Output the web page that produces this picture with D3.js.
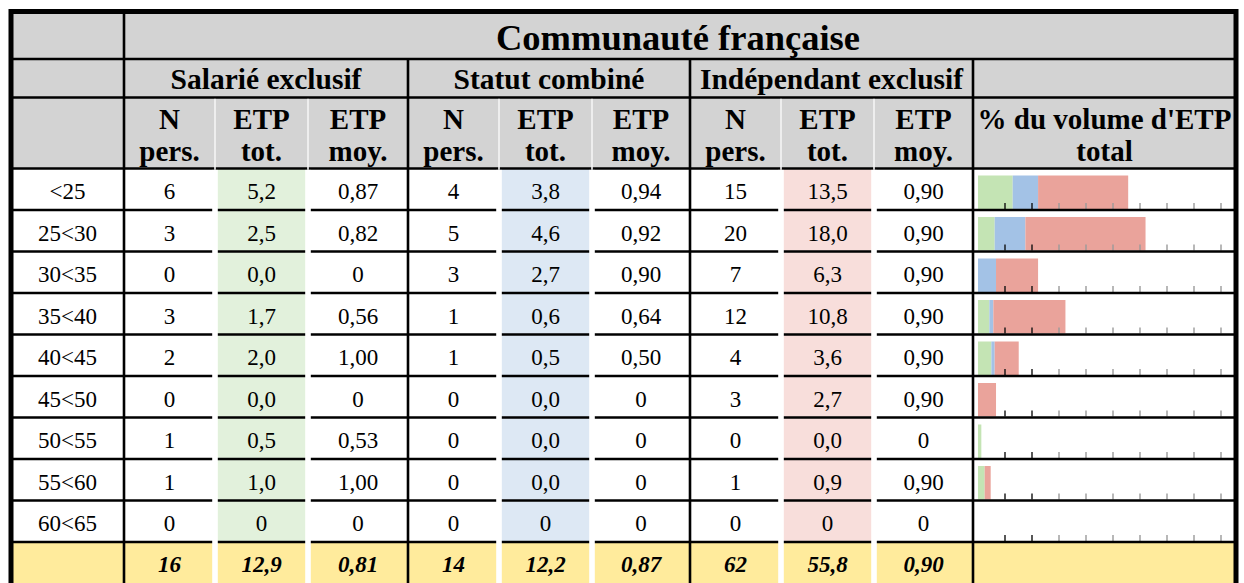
<!DOCTYPE html>
<html>
<head>
<meta charset="utf-8">
<script src="https://cdn.jsdelivr.net/npm/d3@7"></script>
<style>
  html, body { margin: 0; padding: 0; background: #fff; }
  svg { display: block; }
  svg text { font-family: 'Liberation Serif', 'Times New Roman', serif; }
</style>
</head>
<body>
<div id="chart"></div>
<script>
// Tableau ETP par tranche d'âge — Communauté française

const TITLE = 'Communauté française';
const GROUPS = ['Salarié exclusif', 'Statut combiné', 'Indépendant exclusif'];
const SUBHEADS = [['N', 'pers.'], ['ETP', 'tot.'], ['ETP', 'moy.']];
const BAR_HEAD = ["% du volume d'ETP", 'total'];
const AGES = ['<25', '25<30', '30<35', '35<40', '40<45', '45<50', '50<55', '55<60', '60<65'];

// null = cellule vide (affichée "0")
const SAL_N   = [6, 3, 0, 3, 2, 0, 1, 1, 0];
const SAL_ETP = [5.2, 2.5, 0.0, 1.7, 2.0, 0.0, 0.5, 1.0, null];
const SAL_MOY = [0.87, 0.82, 0, 0.56, 1.00, 0, 0.53, 1.00, 0];
const COMB_N   = [4, 5, 3, 1, 1, 0, 0, 0, 0];
const COMB_ETP = [3.8, 4.6, 2.7, 0.6, 0.5, 0.0, 0.0, 0.0, null];
const COMB_MOY = [0.94, 0.92, 0.90, 0.64, 0.50, 0, 0, 0, 0];
const IND_N   = [15, 20, 7, 12, 4, 3, 0, 1, 0];
const IND_ETP = [13.5, 18.0, 6.3, 10.8, 3.6, 2.7, 0.0, 0.9, null];
const IND_MOY = [0.90, 0.90, 0.90, 0.90, 0.90, 0.90, 0, 0.90, 0];

const TOT_N   = [16, 14, 62];
const TOT_ETP = [12.9, 12.2, 55.8];
const TOT_MOY = [0.81, 0.87, 0.90];

const PCT_TICKS = [5, 10, 15, 20, 25, 30, 35, 40, 45];

const GROUP_COLS = [
  { n: SAL_N,  etp: SAL_ETP,  moy: SAL_MOY,  cell: '#e2f1dc', bar: '#c4e4b4' },
  { n: COMB_N, etp: COMB_ETP, moy: COMB_MOY, cell: '#dde8f4', bar: '#a3c2e6' },
  { n: IND_N,  etp: IND_ETP,  moy: IND_MOY,  cell: '#f8dedb', bar: '#eaa39b' },
];

const W = 1244, H = 583;
const L = 11, R = 1236, T = 11.5;
const HEAD_BG = '#d3d3d3', TOTAL_BG = '#ffeb9c';

const colLabel = [L, 124];
const groupX = [124, 408, 690, 973];         // bords des groupes + colonne barres
const subOff = [0, 91, 184];                 // décalages internes d'un groupe
const barCol = [973, R];

const headY = [T, 59, 97.5, 168.5];
const rowLabels = AGES.concat(['__total']);
const y = d3.scaleBand().domain(rowLabels).range([168.5, 583.5]);

const grandTotal = d3.sum(TOT_ETP);
const x = d3.scaleLinear().domain([0, 50]).range([978, 978 + 270]);

const fmt1 = d3.formatLocale({ decimal: ',', thousands: ' ', grouping: [3], currency: ['', ''] });
const f1 = v => v === null ? '0' : fmt1.format('.1f')(v);
const f2 = v => v === 0 ? '0' : fmt1.format('.2f')(v);

const svg = d3.select('#chart').append('svg')
  .attr('width', W).attr('height', H)
  .attr('viewBox', `0 0 ${W} ${H}`);

svg.append('rect').attr('width', W).attr('height', H).attr('fill', '#fff');

// fonds d'en-tête
svg.append('rect').attr('x', L).attr('y', T).attr('width', R - L).attr('height', headY[3] - T)
  .attr('fill', HEAD_BG);

function subBounds(g) {
  const x0 = groupX[g];
  return [x0 + subOff[0], x0 + subOff[1], x0 + subOff[2], groupX[g + 1]];
}

// cellules colorées ETP tot.
GROUP_COLS.forEach((gc, g) => {
  const b = subBounds(g);
  svg.append('g').selectAll('rect').data(AGES).join('rect')
    .attr('x', b[1]).attr('width', b[2] - b[1])
    .attr('y', d => y(d)).attr('height', y.bandwidth())
    .attr('fill', gc.cell);
});

// ligne des totaux
svg.append('rect').attr('x', L).attr('y', y('__total')).attr('width', R - L)
  .attr('height', H - y('__total')).attr('fill', TOTAL_BG);

// barres empilées : % du volume total d'ETP
const barG = svg.append('g');
AGES.forEach((age, i) => {
  let acc = 0;
  GROUP_COLS.forEach(gc => {
    const v = gc.etp[i] || 0;
    const p = v / grandTotal * 100;
    if (p > 0) {
      barG.append('rect')
        .attr('x', x(acc)).attr('width', x(acc + p) - x(acc))
        .attr('y', y(age) + 7).attr('height', y.bandwidth() - 8)
        .attr('fill', gc.bar);
    }
    acc += p;
  });
  barG.append('g').selectAll('line').data(PCT_TICKS).join('line')
    .attr('x1', d => x(d)).attr('x2', d => x(d))
    .attr('y1', y(age) + y.bandwidth() - 7).attr('y2', y(age) + y.bandwidth() - 1)
    .attr('stroke', (d, k) => k < 2 ? '#111' : '#9a9a9a')
    .attr('stroke-width', 1.4);
});

// lignes horizontales
const hLines = [headY[1], headY[2], headY[3]].concat(rowLabels.slice(1).map(d => y(d)));
svg.append('g').selectAll('line').data(hLines).join('line')
  .attr('x1', L).attr('x2', R).attr('y1', d => d).attr('y2', d => d)
  .attr('stroke', '#000').attr('stroke-width', 2.6);

// séparations blanches entre sous-colonnes
GROUP_COLS.forEach((gc, g) => {
  const b = subBounds(g);
  [b[1], b[2]].forEach(bx => {
    svg.append('rect').attr('x', bx - 2.8).attr('width', 5.6)
      .attr('y', headY[3] + 1.4).attr('height', H - headY[3])
      .attr('fill', '#fff');
    svg.append('rect').attr('x', bx - 0.8).attr('width', 1.6)
      .attr('y', headY[2] + 1.3).attr('height', headY[3] - headY[2])
      .attr('fill', '#f4f4f4');
  });
});

// lignes verticales
svg.append('line').attr('x1', colLabel[1]).attr('x2', colLabel[1])
  .attr('y1', T).attr('y2', H).attr('stroke', '#000').attr('stroke-width', 2.6);
groupX.slice(1).forEach(gx => {
  svg.append('line').attr('x1', gx).attr('x2', gx)
    .attr('y1', headY[1]).attr('y2', H).attr('stroke', '#000').attr('stroke-width', 2.6);
});

// cadre extérieur
svg.append('rect').attr('x', L).attr('y', T).attr('width', R - L).attr('height', H + 10)
  .attr('fill', 'none').attr('stroke', '#000').attr('stroke-width', 5);

// textes
const txt = (xx, yy, s, size, opts = {}) => svg.append('text')
  .attr('x', xx).attr('y', yy).attr('text-anchor', 'middle')
  .attr('font-size', size)
  .attr('font-weight', opts.bold ? 700 : 400)
  .attr('font-style', opts.italic ? 'italic' : 'normal')
  .attr('fill', '#000').text(s);

txt((colLabel[1] + R) / 2 - 2, 49.5, TITLE, 36.5, { bold: true });
GROUPS.forEach((gname, g) => txt((groupX[g] + groupX[g + 1]) / 2, 89, gname, 29.5, { bold: true }));
GROUP_COLS.forEach((gc, g) => {
  const b = subBounds(g);
  SUBHEADS.forEach((sh, k) => {
    const cx = (b[k] + b[k + 1]) / 2;
    txt(cx, 129, sh[0], 29, { bold: true });
    txt(cx, 161, sh[1], 29, { bold: true });
  });
});
txt((barCol[0] + barCol[1]) / 2, 129, BAR_HEAD[0], 29, { bold: true });
txt((barCol[0] + barCol[1]) / 2, 161, BAR_HEAD[1], 29, { bold: true });

// corps du tableau
AGES.forEach((age, i) => {
  const by = y(age) + 30.5;
  txt((colLabel[0] + colLabel[1]) / 2, by, age, 23);
  GROUP_COLS.forEach((gc, g) => {
    const b = subBounds(g);
    txt((b[0] + b[1]) / 2, by, String(gc.n[i]), 23);
    txt((b[1] + b[2]) / 2, by, f1(gc.etp[i]), 23);
    txt((b[2] + b[3]) / 2, by, f2(gc.moy[i]), 23);
  });
});

// totaux
const ty = y('__total') + 30;
GROUP_COLS.forEach((gc, g) => {
  const b = subBounds(g);
  txt((b[0] + b[1]) / 2, ty, String(TOT_N[g]), 23, { bold: true, italic: true });
  txt((b[1] + b[2]) / 2, ty, f1(TOT_ETP[g]), 23, { bold: true, italic: true });
  txt((b[2] + b[3]) / 2, ty, f2(TOT_MOY[g]), 23, { bold: true, italic: true });
});
</script>
</body>
</html>
